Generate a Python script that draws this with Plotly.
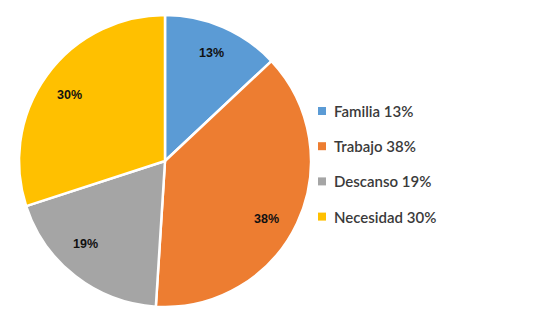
import math
import plotly.graph_objects as go

categories = ["Familia", "Trabajo", "Descanso", "Necesidad"]
values = [13, 38, 19, 30]
colors = ["#5B9BD5", "#ED7D31", "#A5A5A5", "#FFC000"]

W, H = 550, 322
cx, cy, R = 165, 161, 146  # pie centre and radius in pixels

fig = go.Figure(go.Pie(
    labels=categories,
    values=values,
    sort=False,
    direction="clockwise",
    rotation=0,
    marker=dict(colors=colors, line=dict(color="white", width=2.5)),
    textinfo="none",
    hoverinfo="label+percent",
    showlegend=False,
    domain=dict(x=[(cx - R) / W, (cx + R) / W],
                y=[(H - cy - R) / H, (H - cy + R) / H]),
))

# percentage labels placed inside each slice (small pixel nudges per slice)
nudges = [(0, -1), (-4, 8), (-8, -9), (-1, 3)]
total = sum(values)
acc = 0
annotations = []
for v, (nx, ny) in zip(values, nudges):
    mid = (acc + v / 2) / total * 2 * math.pi
    acc += v
    px = cx + 0.8 * R * math.sin(mid) + nx
    py = cy - 0.8 * R * math.cos(mid) + ny
    annotations.append(dict(
        x=px / W, y=1 - py / H, xref="paper", yref="paper",
        xanchor="center", yanchor="middle",
        text=f"<b>{round(v / total * 100)}%</b>", showarrow=False,
        font=dict(family="Liberation Sans", size=12.5, color="#111111"),
    ))

# legend on the right
shapes = []
leg_x, leg_y0, leg_dy = 322, 111, 35.2
for i, (c, v, col) in enumerate(zip(categories, values, colors)):
    y = leg_y0 + i * leg_dy
    shapes.append(dict(type="rect", xref="paper", yref="paper",
                       x0=(leg_x - 4) / W, x1=(leg_x + 4) / W,
                       y0=1 - (y + 4) / H, y1=1 - (y - 4) / H,
                       fillcolor=col, line=dict(width=0)))
    annotations.append(dict(
        x=(leg_x + 10) / W, y=1 - y / H, xref="paper", yref="paper",
        xanchor="left", yanchor="middle",
        text=f"{c} {v}%", showarrow=False,
        font=dict(family="Lato", size=15, color="#3a3a3a", weight=600),
    ))

fig.update_layout(
    width=W, height=H,
    margin=dict(l=0, r=0, t=0, b=0),
    paper_bgcolor="white",
    plot_bgcolor="white",
    annotations=annotations,
    shapes=shapes,
)

fig.write_html("out.html")
